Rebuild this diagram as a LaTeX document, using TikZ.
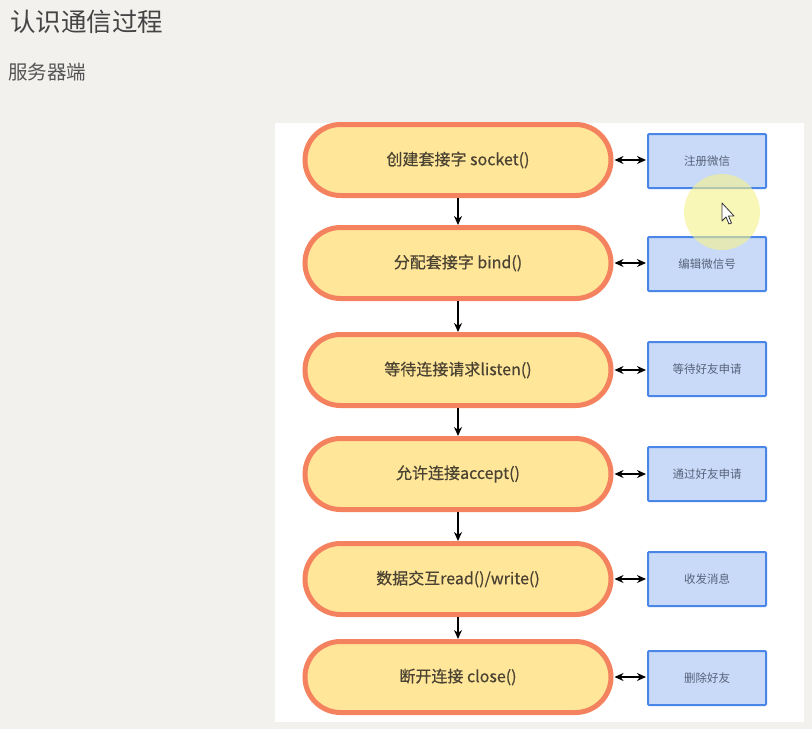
\documentclass[tikz,border=0pt]{standalone}
\usepackage{fontspec}
\setmainfont{Noto Sans CJK SC}
\newfontfamily\pillfont[FakeBold=0.5]{Noto Sans CJK SC}
\usetikzlibrary{shapes.misc,arrows.meta}
\definecolor{bgc}{HTML}{F2F1EE}
\definecolor{pillfill}{HTML}{FFE699}
\definecolor{pillline}{HTML}{F4825E}
\definecolor{pilltext}{HTML}{4A4232}
\definecolor{boxfill}{HTML}{C9DAF8}
\definecolor{boxline}{HTML}{4A86E8}
\definecolor{boxtext}{HTML}{56627A}
\definecolor{titlec}{HTML}{444444}
\definecolor{subc}{HTML}{555555}
\definecolor{hl}{HTML}{F6F28A}
\begin{document}
\begin{tikzpicture}[x=1pt,y=-1pt,
  pill/.style={rounded rectangle, draw=pillline, fill=pillfill, line width=5pt,
    minimum width=306pt, minimum height=71pt, text=pilltext,
    font=\pillfont\fontsize{16}{19}\selectfont, inner sep=0pt},
  ibox/.style={rectangle, draw=boxline, fill=boxfill, line width=2pt,
    minimum width=118pt, minimum height=54pt, text=boxtext,
    font=\fontsize{11.5}{14}\selectfont, inner sep=0pt, rounded corners=1pt},
  flow/.style={-{Stealth[length=9pt,width=8pt]}, line width=1.7pt, black},
  link/.style={{Stealth[length=9pt,width=8pt]}-{Stealth[length=9pt,width=8pt]}, line width=1.7pt, black}
]
\fill[bgc] (0,0) rectangle (812,729);
\useasboundingbox (0,0) rectangle (812,729);
\fill[white] (275,123) rectangle (804,722);

\node[anchor=west, inner sep=0pt, text=titlec, font=\fontsize{25.5}{28}\selectfont] (title) at (10,22) {认识通信过程};
\node[anchor=west, inner sep=0pt, text=subc, font=\fontsize{19.5}{22}\selectfont] (sub) at (8,72) {服务器端};

\node[pill] (p1) at (458,160) {创建套接字 socket()};
\node[pill] (p2) at (458,263) {分配套接字 bind()};
\node[pill] (p3) at (458,370) {等待连接请求listen()};
\node[pill] (p4) at (458,474) {允许连接accept()};
\node[pill] (p5) at (458,579) {数据交互read()/write()};
\node[pill] (p6) at (458,677) {断开连接 close()};

\node[ibox] (b1) at (707,161) {注册微信};
\node[ibox] (b2) at (707,264) {编辑微信号};
\node[ibox] (b3) at (707,369) {等待好友申请};
\node[ibox] (b4) at (707,474) {通过好友申请};
\node[ibox] (b5) at (707,579) {收发消息};
\node[ibox] (b6) at (707,678) {删除好友};

\foreach \a/\b in {p1/p2,p2/p3,p3/p4,p4/p5,p5/p6}
  \draw[flow] (\a.south) -- (\b.north);
\foreach \i in {1,...,6}
  \draw[link] ([xshift=1pt]p\i.east) -- ([xshift=-1pt]b\i.west |- p\i.east);

% cursor highlight
\fill[hl, opacity=0.6] (722,212) circle (38);
\filldraw[fill=white, draw=black!80, line width=0.8pt, line join=round]
  (722,203) -- (722,221) -- (726,217) -- (729,224) -- (731.5,223) -- (728.5,216) -- (734,216) -- cycle;
\end{tikzpicture}
\end{document}
